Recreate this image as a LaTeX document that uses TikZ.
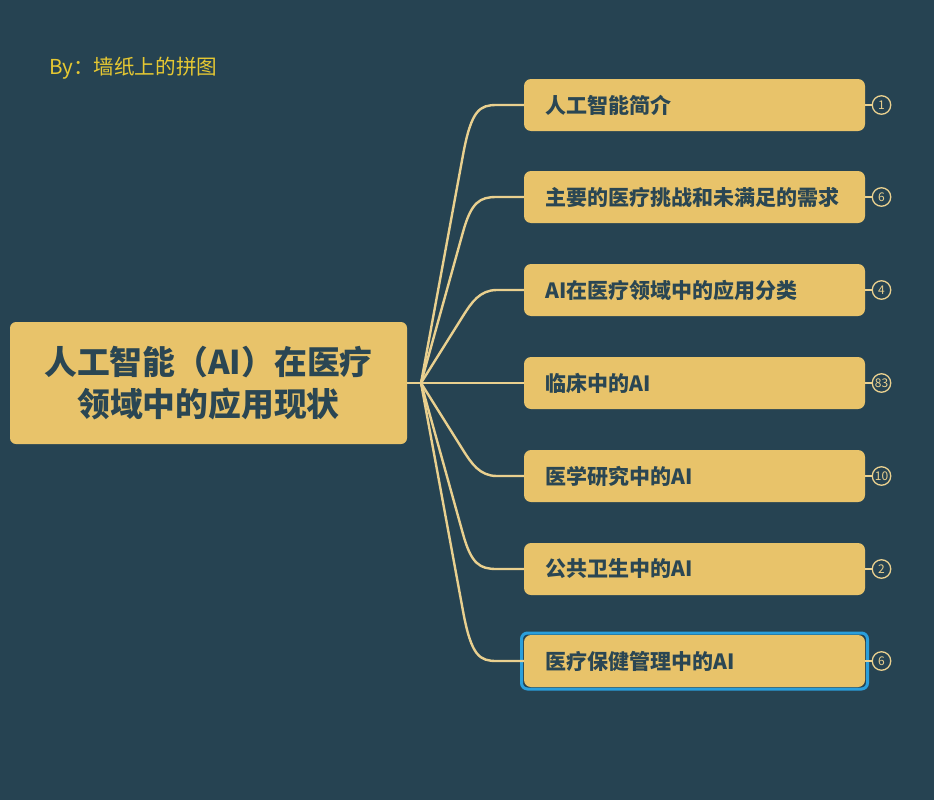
\documentclass[tikz,border=0pt]{standalone}
\usepackage{fontspec}
\setmainfont{Noto Sans CJK SC}
\usetikzlibrary{calc}
\definecolor{bgc}{HTML}{264352}
\definecolor{boxc}{HTML}{E8C36A}
\definecolor{linkc}{HTML}{E9D08F}
\definecolor{inkc}{HTML}{2A4653}
\definecolor{hlc}{HTML}{2A9FDC}
\definecolor{byc}{HTML}{E6C832}
\tikzset{
  mainbox/.style={fill=boxc,rounded corners=6pt,minimum width=397pt,minimum height=122pt,inner sep=0pt,align=center,text=inkc,font=\fontsize{32.8}{42}\selectfont\bfseries},
  subbox/.style={fill=boxc,rounded corners=7pt,minimum width=341pt,minimum height=52pt,text width=298pt,inner xsep=21.5pt,inner ysep=0pt,align=left,text=inkc,font=\fontsize{21}{24}\selectfont\bfseries},
  hlbox/.style={draw=hlc,line width=3pt,rounded corners=6pt,minimum width=346pt,minimum height=56pt,inner sep=0pt},
  link/.style={draw=linkc,line width=2.4pt},
  tiny/.style={draw=linkc,line width=1.5pt},
  countc/.style={circle,draw=linkc,line width=1.3pt,fill=bgc,minimum size=18.5pt,inner sep=0pt,text=linkc,font=\fontsize{12}{12}\selectfont},
  bytext/.style={anchor=west,inner sep=0pt,text=byc,font=\fontsize{20.6}{24}\selectfont}
}
\newcommand{\branch}[2]{%
  \draw[link] (j) -- (463,#2) .. controls ($(j)!1.2!(463,#2)$) and ($(#1.west)+(-44,0)$) .. ($(#1.west)+(-27,0)$) -- (#1.west);}
\begin{document}
\begin{tikzpicture}[x=1pt,y=-1pt]
\fill[bgc] (0,0) rectangle (934,800);
\useasboundingbox (0,0) rectangle (934,800);
\node[bytext] (by) at (49,68) {By：墙纸上的拼图};
\node[mainbox] (main) at (208.5,383) {人工智能（AI）在医疗\\领域中的应用现状};
\coordinate (j) at (421,383);
\node[hlbox] (hl) at (694.5,661) {};
\node[subbox] (b1) at (694.5,105) {人工智能简介};
\node[subbox] (b2) at (694.5,197) {主要的医疗挑战和未满足的需求};
\node[subbox] (b3) at (694.5,290) {AI在医疗领域中的应用分类};
\node[subbox] (b4) at (694.5,383) {临床中的AI};
\node[subbox] (b5) at (694.5,476) {医学研究中的AI};
\node[subbox] (b6) at (694.5,569) {公共卫生中的AI};
\node[subbox] (b7) at (694.5,661) {医疗保健管理中的AI};
\draw[link] (main.east) -- (j);
\branch{b1}{155}
\branch{b2}{232}
\branch{b3}{316}
\draw[link] (j) -- (b4.west);
\branch{b5}{450}
\branch{b6}{534}
\branch{b7}{611}
\node[countc] (c1) at (881.5,105) {1};
\node[countc] (c2) at (881.5,197) {6};
\node[countc] (c3) at (881.5,290) {4};
\node[countc] (c4) at (881.5,383) {83};
\node[countc] (c5) at (881.5,476) {10};
\node[countc] (c6) at (881.5,569) {2};
\node[countc] (c7) at (881.5,661) {6};
\foreach \i in {1,...,7} {\draw[tiny] (b\i.east) -- (c\i.west);}
\end{tikzpicture}
\end{document}
